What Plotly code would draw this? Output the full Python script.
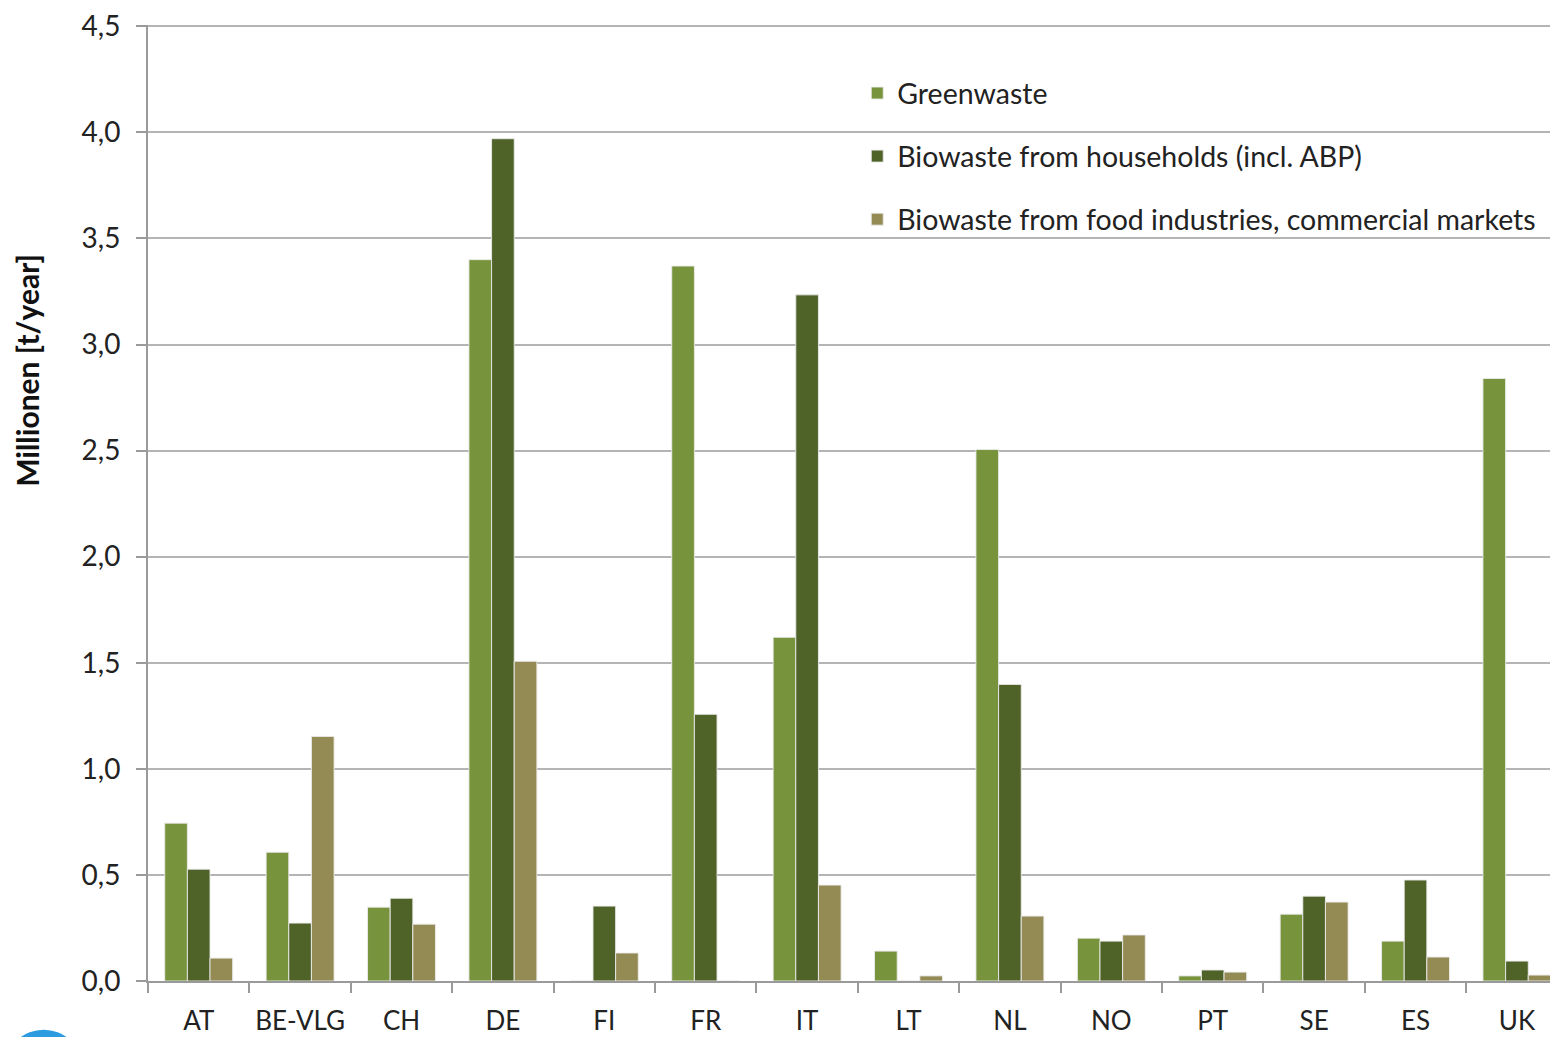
import plotly.graph_objects as go

countries = ["AT", "BE-VLG", "CH", "DE", "FI", "FR", "IT", "LT", "NL", "NO", "PT", "SE", "ES", "UK"]
greenwaste = [0.744, 0.607, 0.348, 3.40, 0.0, 3.37, 1.62, 0.141, 2.505, 0.202, 0.024, 0.315, 0.188, 2.84]
households = [0.527, 0.273, 0.390, 3.97, 0.353, 1.257, 3.234, 0.0, 1.398, 0.188, 0.052, 0.400, 0.476, 0.094]
food_ind = [0.108, 1.153, 0.268, 1.507, 0.132, 0.0, 0.452, 0.024, 0.306, 0.217, 0.042, 0.372, 0.113, 0.028]

series_names = ["Greenwaste", "Biowaste from households (incl. ABP)",
                "Biowaste from food industries, commercial markets"]
series_colors = ["#77933C", "#4F6228", "#948A54"]
y_ticks = [0, 0.5, 1.0, 1.5, 2.0, 2.5, 3.0, 3.5, 4.0, 4.5]

FONT = "Lato, 'Open Sans', sans-serif"

fig = go.Figure()
for i, (name, vals, col) in enumerate(zip(series_names, [greenwaste, households, food_ind], series_colors)):
    fig.add_trace(go.Bar(
        x=countries, y=vals, name=name, legendgroup=f"g{i}",
        marker=dict(color=col, line=dict(color="rgba(235,235,235,0.9)", width=1)),
    ))

fig.update_layout(
    width=1550, height=1029,
    margin=dict(l=140, r=0, t=17, b=56),
    paper_bgcolor="white", plot_bgcolor="white",
    barmode="group", bargap=0.33, bargroupgap=0,
    separators=",.",
    font=dict(family=FONT, size=27, color="#222222"),
    showlegend=True,
    legend=dict(x=0.503, y=0.955, xanchor="left", yanchor="top",
                font=dict(size=28.5, color="#222222"),
                tracegroupgap=23, itemwidth=30, bgcolor="rgba(0,0,0,0)"),
    xaxis=dict(
        type="category", range=[-0.5, 13.405], automargin=False,
        showline=True, linecolor="#9A9A9A", linewidth=2,
        ticks="outside", tickson="boundaries", ticklen=10, tickwidth=2, tickcolor="#9A9A9A",
        ticklabelstandoff=16, ticklabeloverflow="allow",
        tickfont=dict(size=26, color="#222222"),
        showgrid=False, zeroline=False,
    ),
    yaxis=dict(
        range=[0, 4.506], tickvals=y_ticks, tickformat=".1f", automargin=False,
        showline=True, linecolor="#9A9A9A", linewidth=2,
        ticks="outside", ticklen=10, tickwidth=2, tickcolor="#9A9A9A",
        ticklabelstandoff=10, ticklabeloverflow="allow",
        showgrid=True, gridcolor="#B4B4B4", gridwidth=2,
        zeroline=False, tickfont=dict(size=28, color="#222222"),
    ),
    annotations=[dict(
        text="<b>Millionen [t/year]</b>", textangle=-90,
        xref="paper", yref="paper", x=-0.086, y=0.639,
        xanchor="center", yanchor="middle", showarrow=False,
        font=dict(family=FONT, size=30, color="#111111"),
    )],
    shapes=[dict(
        type="circle", xref="paper", yref="paper",
        x0=-0.1, x1=-0.048, y0=-0.12, y1=-0.051,
        fillcolor="#2C9BE0", line=dict(width=0), layer="above",
    )],
)

fig.write_html("out.html")
